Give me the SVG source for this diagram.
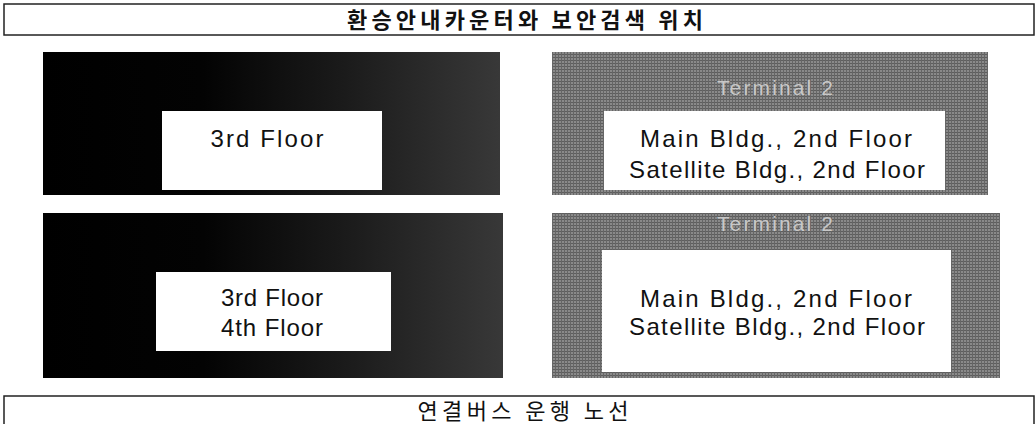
<svg xmlns="http://www.w3.org/2000/svg" width="1036" height="424" viewBox="0 0 1036 424">
<defs>
<linearGradient id="darkGrad" x1="0" y1="0" x2="1" y2="0">
<stop offset="0" stop-color="#000"/>
<stop offset="0.35" stop-color="#030303"/>
<stop offset="0.65" stop-color="#1a1a1a"/>
<stop offset="1" stop-color="#383838"/>
</linearGradient>
<pattern id="grid" width="3" height="3" patternUnits="userSpaceOnUse">
<rect width="3" height="3" fill="#8a8a8a"/>
<rect width="3" height="1" fill="#5e5e5e"/>
<rect width="1" height="3" fill="#666"/>
</pattern>
<style>
.frame{fill:#fff;stroke:#222;stroke-width:1.5}
.dark{fill:url(#darkGrad)}
.gray{fill:url(#grid)}
.inner{fill:#fff}
.hdr{font-family:"Noto Sans CJK KR","Noto Sans",sans-serif;font-size:22px;fill:#111;text-anchor:middle}
.lbl{font-family:"Liberation Sans","DejaVu Sans",sans-serif;font-size:24px;fill:#111;text-anchor:middle}
.term{font-family:"Liberation Sans","DejaVu Sans",sans-serif;font-size:21px;fill:#c8c8c8;text-anchor:middle}
</style>
</defs>
<rect width="1036" height="424" fill="#fff"/>
<g id="header">
<rect class="frame" x="4" y="4" width="1030" height="31"/>
<text class="hdr" x="525" y="28" font-weight="700" textLength="356" lengthAdjust="spacing">환승안내카운터와 보안검색 위치</text>
</g>
<g id="t1-counter">
<rect class="dark" x="43" y="52" width="457" height="143"/>
<rect class="inner" x="162" y="111" width="220" height="79"/>
<text class="lbl" x="267" y="147" textLength="113" lengthAdjust="spacing">3rd Floor</text>
</g>
<g id="t2-counter">
<rect class="gray" x="552" y="52" width="436" height="143"/>
<text class="term" x="775" y="95" textLength="116" lengthAdjust="spacing">Terminal 2</text>
<rect class="inner" x="604" y="111" width="341" height="79"/>
<text class="lbl" x="776" y="147" textLength="272" lengthAdjust="spacing">Main Bldg., 2nd Floor</text>
<text class="lbl" x="777" y="178" textLength="296" lengthAdjust="spacing">Satellite Bldg., 2nd Floor</text>
</g>
<g id="t1-security">
<rect class="dark" x="43" y="213" width="460" height="165"/>
<rect class="inner" x="156" y="272" width="235" height="79"/>
<text class="lbl" x="272" y="306" textLength="102" lengthAdjust="spacing">3rd Floor</text>
<text class="lbl" x="272" y="336" textLength="102" lengthAdjust="spacing">4th Floor</text>
</g>
<g id="t2-security">
<rect class="gray" x="552" y="213" width="448" height="165"/>
<text class="term" x="775" y="231" textLength="116" lengthAdjust="spacing">Terminal 2</text>
<rect class="inner" x="602" y="250" width="349" height="122"/>
<text class="lbl" x="776" y="307" textLength="272" lengthAdjust="spacing">Main Bldg., 2nd Floor</text>
<text class="lbl" x="777" y="335" textLength="296" lengthAdjust="spacing">Satellite Bldg., 2nd Floor</text>
</g>
<g id="footer">
<rect class="frame" x="4" y="396" width="1030" height="34"/>
<text class="hdr" x="523" y="419" textLength="211" lengthAdjust="spacing">연결버스 운행 노선</text>
</g>
<g id="connectors"></g>
</svg>
